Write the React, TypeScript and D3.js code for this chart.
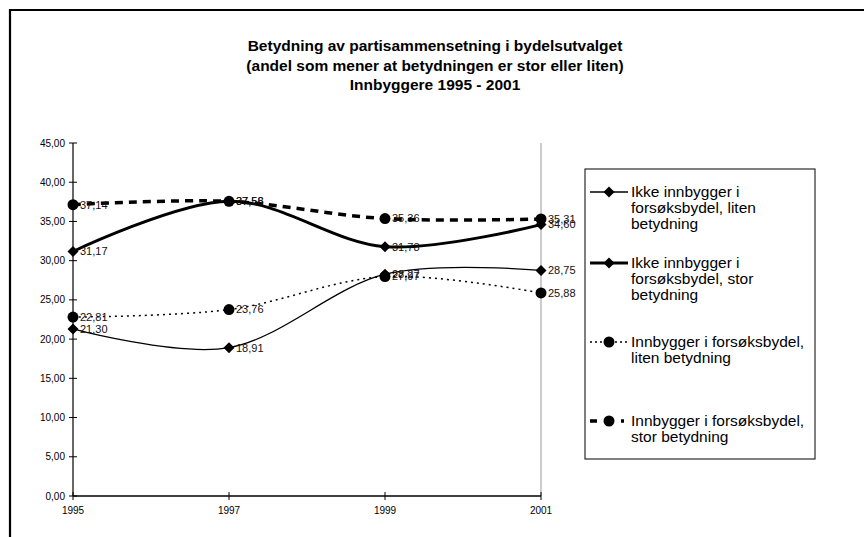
import React from 'react';
import * as d3 from 'd3';

const years = ['1995', '1997', '1999', '2001'];
const ikkeLiten = [21.3, 18.91, 28.27, 28.75];
const ikkeStor = [31.17, 37.58, 31.78, 34.6];
const innbLiten = [22.81, 23.76, 27.97, 25.88];
const innbStor = [37.14, 37.56, 35.36, 35.31];
const yTicks = [0, 5, 10, 15, 20, 25, 30, 35, 40, 45];

const titleLines = [
  'Betydning av partisammensetning i bydelsutvalget',
  '(andel som mener at betydningen er stor eller liten)',
  'Innbyggere 1995 - 2001',
];

const series = [
  { name: ['Ikke innbygger i', 'forsøksbydel, liten', 'betydning'], values: ikkeLiten, width: 1.3, dash: null, legendDash: null, marker: 'diamond' },
  { name: ['Ikke innbygger i', 'forsøksbydel, stor', 'betydning'], values: ikkeStor, width: 3, dash: null, legendDash: null, marker: 'diamond' },
  { name: ['Innbygger i forsøksbydel,', 'liten betydning'], values: innbLiten, width: 1.5, dash: '2,4', legendDash: '2,3', marker: 'circle' },
  { name: ['Innbygger i forsøksbydel,', 'stor betydning'], values: innbStor, width: 3.5, dash: '8,6', legendDash: '7,24,3,50', marker: 'circle' },
];

// y of the first legend text line for each entry
const legendTops = [192, 263, 342, 421];

const FONT = '"Liberation Sans", Arial, sans-serif';
const fmt = (v: number) => v.toFixed(2).replace('.', ',');

const Marker = ({ type, x, y }: { type: string; x: number; y: number }) =>
  type === 'diamond' ? (
    <path d={`M${x},${y - 5.5}L${x + 5.5},${y}L${x},${y + 5.5}L${x - 5.5},${y}Z`} fill="#000" />
  ) : (
    <circle cx={x} cy={y} r={5.5} fill="#000" />
  );

export default function App() {
  const x = d3.scalePoint<string>().domain(years).range([73, 541]);
  const y = d3.scaleLinear().domain([0, 45]).range([496, 143]);
  const line = d3
    .line<number>()
    .x((_, i) => x(years[i]) as number)
    .y((d) => y(d))
    .curve(d3.curveCardinal.tension(0));

  return (
    <svg width={864} height={537} style={{ position: 'absolute', left: 0, top: 0, background: '#fff' }} fontFamily={FONT}>
      <rect x={0} y={0} width={864} height={537} fill="#fff" />
      {/* outer chart border, runs past the right and bottom of the window */}
      <path d="M10,540V10H870" fill="none" stroke="#000" strokeWidth={2.2} />

      {titleLines.map((t, i) => (
        <text key={i} x={435} y={51 + i * 19.5} textAnchor="middle" fontSize={15.5} fontWeight="bold">
          {t}
        </text>
      ))}

      {/* plot area right edge */}
      <line x1={541} x2={541} y1={y(45)} y2={y(0)} stroke="#999" strokeWidth={1} />

      {/* y axis */}
      <line x1={73} x2={73} y1={y(45)} y2={y(0)} stroke="#000" strokeWidth={1.2} />
      {yTicks.map((t) => (
        <g key={t}>
          <line x1={69} x2={77} y1={y(t)} y2={y(t)} stroke="#000" />
          <text x={65} y={y(t)} dy="0.35em" textAnchor="end" fontSize={10}>
            {fmt(t)}
          </text>
        </g>
      ))}

      {/* x axis */}
      <line x1={73} x2={541} y1={y(0)} y2={y(0)} stroke="#000" strokeWidth={1.5} />
      {years.map((yr) => (
        <g key={yr}>
          <line x1={x(yr)} x2={x(yr)} y1={y(0) - 4} y2={y(0) + 4} stroke="#000" />
          <text x={x(yr)} y={y(0) + 18} textAnchor="middle" fontSize={10}>
            {yr}
          </text>
        </g>
      ))}

      {series.map((s, si) => (
        <g key={si}>
          <path
            d={line(s.values) || ''}
            fill="none"
            stroke="#000"
            strokeWidth={s.width}
            strokeDasharray={s.dash || undefined}
          />
          {s.values.map((v, i) => (
            <g key={i}>
              <Marker type={s.marker} x={x(years[i]) as number} y={y(v)} />
              <text x={(x(years[i]) as number) + 7} y={y(v)} dy="0.35em" fontSize={11} fill="#111">
                {fmt(v)}
              </text>
            </g>
          ))}
        </g>
      ))}

      {/* legend */}
      <rect x={585} y={169} width={230} height={290} fill="#fff" stroke="#000" strokeWidth={1} />
      {series.map((s, si) => {
        const ly = legendTops[si];
        return (
          <g key={si}>
            <line
              x1={590}
              x2={628}
              y1={ly}
              y2={ly}
              stroke="#000"
              strokeWidth={s.width}
              strokeDasharray={s.legendDash || undefined}
            />
            <Marker type={s.marker} x={609} y={ly} />
            {s.name.map((t, li) => (
              <text key={li} x={631} y={ly + li * 16} dy="0.35em" fontSize={15.5}>
                {t}
              </text>
            ))}
          </g>
        );
      })}
    </svg>
  );
}
